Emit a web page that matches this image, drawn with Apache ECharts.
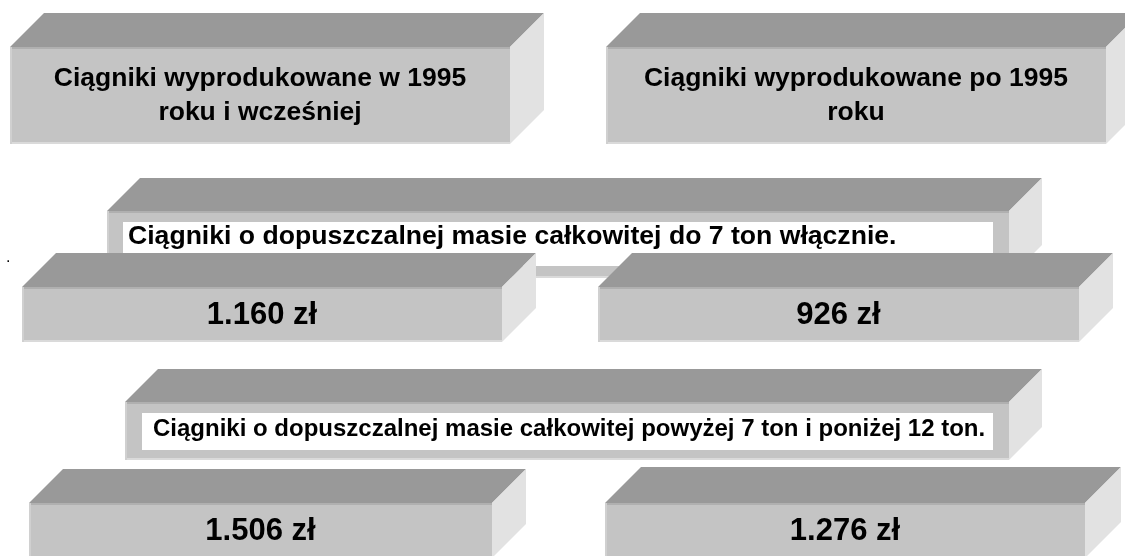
<!DOCTYPE html>
<html>
<head>
<meta charset="utf-8">
<script src="https://cdn.jsdelivr.net/npm/echarts@6/dist/echarts.min.js"></script>
<style>
  html, body { margin: 0; padding: 0; background: #fff; }
  #chart1 { width: 1125px; height: 556px; }
</style>
</head>
<body>
<div id="chart1"></div>
<script>
// DATA
var yearGroups = ['Ciągniki wyprodukowane w 1995\nroku i wcześniej', 'Ciągniki wyprodukowane po 1995\nroku'];
var weightClasses = ['Ciągniki o dopuszczalnej masie całkowitej do 7 ton włącznie.',
                     'Ciągniki o dopuszczalnej masie całkowitej powyżej 7 ton i poniżej 12 ton.'];
var taxUpTo7 = [1160, 926];
var tax7to12 = [1506, 1276];

// LAYOUT  [x, front top, width, height, depth]
var headerBoxes = [[10, 47, 500, 97, 34], [606, 47, 500, 97, 34]];
var bandBoxes = [[107, 211, 902, 67, 33], [125, 402, 884, 58, 33]];
// white label: [x, y, w, h, text x, text y, font size]
var bandLabels = [[123, 222, 870, 44, 128, 237, 26.6], [142, 413, 851, 37, 153, 429, 24]];
var priceBoxes = [
  [[22, 287, 480, 55, 34], [598, 287, 481, 55, 34]],
  [[29, 503, 463, 55, 34], [605, 503, 480, 55, 36]]
];
var priceSeries = [taxUpTo7, tax7to12];

var colTop = '#999999';
var colFront = '#c4c4c4';
var colSide = '#e2e2e2';
var fontFam = '"Liberation Sans", Arial, sans-serif';

function zl(v) {
  var s = v >= 1000 ? Math.floor(v / 1000) + '.' + String(v % 1000).padStart(3, '0') : String(v);
  return s + ' zł';
}

// build draw list in painting order
var items = [];
headerBoxes.forEach(function (b, i) { items.push({ box: b, kind: 'header', idx: i }); });
[0, 1].forEach(function (row) {
  items.push({ box: bandBoxes[row], kind: 'band', idx: row });
  priceBoxes[row].forEach(function (b, i) { items.push({ box: b, kind: 'price', row: row, idx: i }); });
});

function pt(api, x, y) { return api.coord([x, y]); }

function renderItem(params, api) {
  var it = items[params.dataIndex];
  var b = it.box;
  var x = b[0], y = b[1], w = b[2], h = b[3], d = b[4];
  var children = [];
  children.push({ type: 'polygon', shape: { points: [pt(api, x, y), pt(api, x + w, y), pt(api, x + w + d, y - d), pt(api, x + d, y - d)] }, style: { fill: colTop } });
  children.push({ type: 'polygon', shape: { points: [pt(api, x + w, y), pt(api, x + w + d, y - d), pt(api, x + w + d, y + h - d), pt(api, x + w, y + h)] }, style: { fill: colSide } });
  var p0 = pt(api, x, y), p1 = pt(api, x + w, y + h);
  children.push({ type: 'rect', shape: { x: p0[0], y: p0[1], width: p1[0] - p0[0], height: p1[1] - p0[1] }, style: { fill: colFront } });
  children.push({ type: 'line', shape: { x1: p0[0], y1: p0[1] + 1, x2: p1[0], y2: p0[1] + 1 }, style: { stroke: '#b0b0b0', lineWidth: 2 } });
  children.push({ type: 'line', shape: { x1: p0[0], y1: p1[1] - 1, x2: p1[0], y2: p1[1] - 1 }, style: { stroke: '#dadada', lineWidth: 2 } });
  children.push({ type: 'line', shape: { x1: p0[0] + 1, y1: p0[1], x2: p0[0] + 1, y2: p1[1] }, style: { stroke: '#d0d0d0', lineWidth: 2 } });
  var cx = (p0[0] + p1[0]) / 2, cy = (p0[1] + p1[1]) / 2;
  if (it.kind === 'header') {
    children.push({ type: 'text', style: { text: yearGroups[it.idx], x: cx, y: cy, align: 'center', verticalAlign: 'middle', lineHeight: 34, fill: '#000', font: 'bold 26.5px ' + fontFam } });
  } else if (it.kind === 'band') {
    var L = bandLabels[it.idx];
    var q0 = pt(api, L[0], L[1]), q1 = pt(api, L[0] + L[2], L[1] + L[3]);
    children.push({ type: 'rect', shape: { x: q0[0], y: q0[1], width: q1[0] - q0[0], height: q1[1] - q0[1] }, style: { fill: '#fff' } });
    var tp = pt(api, L[4], L[5]);
    children.push({ type: 'text', style: { text: weightClasses[it.idx], x: tp[0], y: tp[1], align: 'left', verticalAlign: 'middle', fill: '#000', font: 'bold ' + L[6] + 'px ' + fontFam } });
  } else {
    children.push({ type: 'text', style: { text: zl(priceSeries[it.row][it.idx]), x: cx, y: cy + 1, align: 'center', verticalAlign: 'middle', fill: '#000', font: 'bold 31px ' + fontFam } });
  }
  return { type: 'group', children: children };
}

var chartDom1 = document.getElementById('chart1');
var myChart1 = echarts.init(chartDom1);
var option1 = {
  animation: false,
  grid: { left: 0, right: 0, top: 0, bottom: 0 },
  xAxis: { type: 'value', min: 0, max: 1125, show: false },
  yAxis: { type: 'value', min: 0, max: 556, inverse: true, show: false },
  graphic: [{ type: 'text', left: 6, top: 250, style: { text: '.', fill: '#000', font: '16px ' + fontFam } }],
  series: [{
    type: 'custom',
    clip: false,
    renderItem: renderItem,
    encode: { x: 0, y: 1 },
    data: items.map(function (it) { return [it.box[0], it.box[1]]; })
  }]
};
myChart1.setOption(option1);
</script>
</body>
</html>
